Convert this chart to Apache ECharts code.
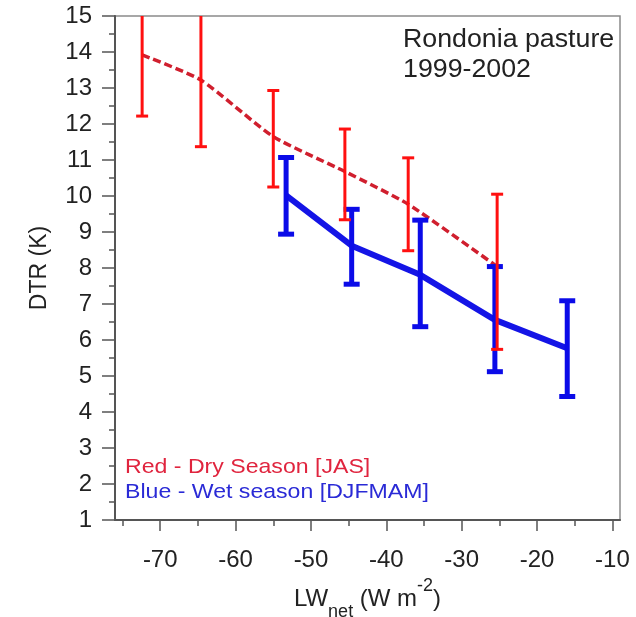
<!DOCTYPE html>
<html>
<head>
<meta charset="utf-8">
<script src="https://cdn.jsdelivr.net/npm/echarts@6/dist/echarts.min.js"></script>
<style>
html,body{margin:0;padding:0;background:#fff;}
#chart{width:636px;height:617px;}
</style>
</head>
<body>
<div id="chart"></div>
<script>
// Dry season (red)
var redX    = [-72.4, -64.6, -55.0, -45.5, -37.1, -25.3];
var redY    = [13.92, 13.22, 11.65, 10.68, 9.77, 8.04];
var redLow  = [12.22, 11.37, 10.25, 9.34, 8.48, 5.74];
var redHigh = [15.6, 15.05, 12.93, 11.86, 11.06, 10.05];
// Wet season (blue)
var blueX    = [-53.3, -44.6, -35.5, -25.6, -16.0];
var blueY    = [10.02, 8.62, 7.81, 6.56, 5.77];
var blueLow  = [8.94, 7.55, 6.37, 5.12, 4.43];
var blueHigh = [11.07, 9.63, 9.33, 8.04, 7.09];
// axis ticks
var xMajorTicks = [-70, -60, -50, -40, -30, -20, -10];
var xMinorTicks = [-75, -65, -55, -45, -35, -25, -15];

var FONT = 'Liberation Sans, Arial, sans-serif';

function pairs(xs, ys) { return xs.map(function (x, i) { return [x, ys[i]]; }); }
function errData(xs, lo, hi) { return xs.map(function (x, i) { return [x, lo[i], hi[i]]; }); }

function errRenderer(color, lw, capHalf) {
  return function (params, api) {
    var x = api.value(0);
    var lo = api.coord([x, api.value(1)]);
    var hi = api.coord([x, api.value(2)]);
    var style = { stroke: color, lineWidth: lw, fill: null };
    return {
      type: 'group',
      children: [
        { type: 'line', shape: { x1: lo[0], y1: lo[1], x2: hi[0], y2: hi[1] }, style: style },
        { type: 'line', shape: { x1: lo[0] - capHalf, y1: lo[1], x2: lo[0] + capHalf, y2: lo[1] }, style: style },
        { type: 'line', shape: { x1: hi[0] - capHalf, y1: hi[1], x2: hi[0] + capHalf, y2: hi[1] }, style: style }
      ]
    };
  };
}

var chart = echarts.init(document.getElementById('chart'), null, { renderer: 'canvas' });
var axisColor = '#555';
chart.setOption({
  animation: false,
  backgroundColor: '#fff',
  grid: { left: 115, top: 16, right: 16, bottom: 97, containLabel: false, outerBoundsMode: 'none', show: true, borderColor: '#8a8a8a', borderWidth: 1.5, backgroundColor: 'transparent' },
  xAxis: [{
    type: 'value', min: -76, max: -9, position: 'bottom',
    axisLine: { show: true, onZero: false, lineStyle: { color: axisColor, width: 2 } },
    axisTick: { show: true, inside: false, length: 11, customValues: xMajorTicks, lineStyle: { color: axisColor, width: 1.5 } },
    axisLabel: { customValues: xMajorTicks, fontSize: 24, color: '#222', fontFamily: FONT, margin: 28 },
    splitLine: { show: false },
    name: '{a|LW}{s|net}{a| (W m}{p|-2}{a|)}',
    nameLocation: 'middle', nameGap: 47,
    nameTextStyle: {
      fontFamily: FONT, color: '#222',
      rich: {
        a: { fontSize: 24, lineHeight: 44, color: '#222', fontFamily: FONT },
        s: { fontSize: 18, verticalAlign: 'bottom', color: '#222', fontFamily: FONT },
        p: { fontSize: 18, verticalAlign: 'top', color: '#222', fontFamily: FONT }
      }
    }
  }, {
    type: 'value', min: -76, max: -9, position: 'bottom',
    axisLine: { show: false, onZero: false },
    axisTick: { show: true, inside: false, length: 6, customValues: xMinorTicks, lineStyle: { color: axisColor, width: 1.5 } },
    axisLabel: { show: false },
    splitLine: { show: false }
  }],
  yAxis: {
    type: 'value', min: 1, max: 15, interval: 1,
    axisLine: { show: true, onZero: false, lineStyle: { color: axisColor, width: 2 } },
    axisTick: { show: true, inside: false, length: 13, lineStyle: { color: axisColor, width: 1.5 } },
    minorTick: { show: true, splitNumber: 2, length: 6, lineStyle: { color: axisColor, width: 1.5 } },
    axisLabel: { fontSize: 24, color: '#222', fontFamily: FONT, margin: 23, padding: [6, 0, 0, 0] },
    splitLine: { show: false },
    name: 'DTR (K)', nameLocation: 'middle', nameGap: 64, nameRotate: 90,
    nameTextStyle: { fontSize: 23, color: '#222', fontFamily: FONT }
  },
  series: [
    {
      type: 'line', name: 'Dry line', data: pairs(redX, redY), xAxisIndex: 0,
      symbol: 'none', smooth: 0.2, z: 2,
      lineStyle: { color: '#d01f2e', width: 3.5, type: [8, 4] }
    },
    {
      type: 'line', name: 'Wet line', data: pairs(blueX, blueY), xAxisIndex: 0,
      symbol: 'none', z: 3,
      lineStyle: { color: '#1414e6', width: 6 }
    },
    {
      type: 'custom', name: 'Wet err', data: errData(blueX, blueLow, blueHigh), xAxisIndex: 0,
      renderItem: errRenderer('#0b0be8', 5, 8), z: 4, clip: true,
      encode: { x: 0, y: [1, 2] }
    },
    {
      type: 'custom', name: 'Dry err', data: errData(redX, redLow, redHigh), xAxisIndex: 0,
      renderItem: errRenderer('#ff1010', 3, 6), z: 5, clip: true,
      encode: { x: 0, y: [1, 2] }
    }
  ],
  graphic: [
    { type: 'text', left: 403, top: 25, style: { text: 'Rondonia pasture\n1999-2002', font: '25px ' + FONT, lineHeight: 30, fill: '#222' }, scaleX: 1.07 },
    { type: 'text', left: 125, top: 457, style: { text: 'Red - Dry Season [JAS]', font: '21px ' + FONT, fill: '#e0243e' }, scaleX: 1.1 },
    { type: 'text', left: 125, top: 482, style: { text: 'Blue - Wet season [DJFMAM]', font: '21px ' + FONT, fill: '#2a2ad6' }, scaleX: 1.1 }
  ]
});
</script>
</body>
</html>
